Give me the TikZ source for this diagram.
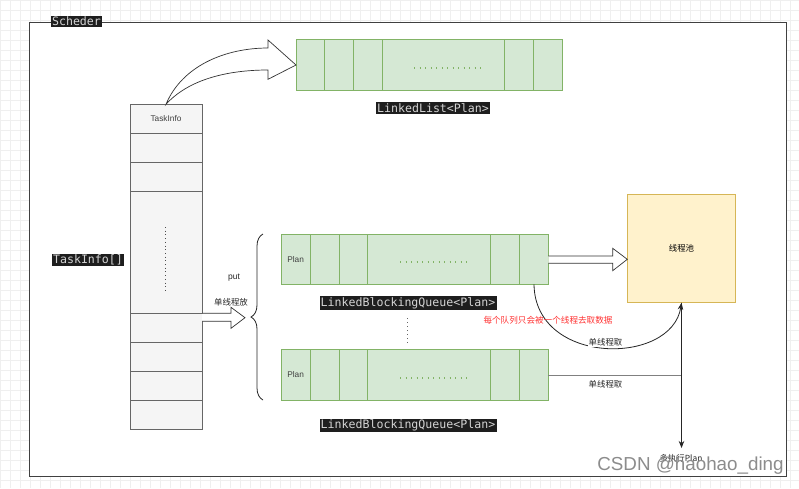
\documentclass[tikz,border=0pt]{standalone}
\usepackage{fontspec}
\setmainfont{Liberation Sans}
\newfontfamily\cjk{Noto Sans CJK SC}
\newfontfamily\monof{DejaVu Sans Mono}
\usetikzlibrary{arrows.meta,calc,decorations.pathreplacing}
\definecolor{gfill}{HTML}{D5E8D4}
\definecolor{gline}{HTML}{82B366}
\definecolor{tfill}{HTML}{F5F5F5}
\definecolor{tline}{HTML}{666666}
\definecolor{pfill}{HTML}{FFF2CC}
\definecolor{pline}{HTML}{D6B656}
\definecolor{darkbg}{HTML}{1E1E1E}
\definecolor{codetext}{HTML}{D4D4D4}
\definecolor{redtxt}{HTML}{FF3333}
\definecolor{gridc}{HTML}{EFEFEF}
\tikzset{
  gcell/.style={draw=gline, fill=gfill, line width=0.9pt, anchor=north west, inner sep=0pt, outer sep=0pt, font=\fontsize{8.3}{10}\selectfont, text=black!75},
  tcell/.style={draw=tline, fill=tfill, line width=0.8pt, anchor=north west, inner sep=0pt, outer sep=0pt, minimum width=72pt, font=\fontsize{8.3}{10}\selectfont, text=black!75},
  codelabel/.style={fill=darkbg, text=codetext, font=\monof\fontsize{11.6}{13}\selectfont, inner sep=1.2pt},
  smalltxt/.style={font=\fontsize{8.5}{10}\selectfont, text=black!85, inner sep=1pt},
  cjklabel/.style={font=\cjk\fontsize{8.4}{10}\selectfont, text=black!85, inner sep=1pt},
  blockarrow/.style={draw=black!80, fill=white, line width=0.7pt, line join=miter},
  hdots/.style={draw=gline, line width=1.1pt, dash pattern=on 1.1pt off 4.4pt},
  edgeline/.style={draw=black!85, line width=0.8pt, -{Stealth[length=7pt,width=5.5pt]}},
}
\begin{document}
\begin{tikzpicture}[x=1pt,y=-1pt]
\useasboundingbox (0,0) rectangle (799,488);
% background grid
\draw[gridc, line width=0.5pt, step=10pt] (0,0) grid (799,488);
% frame
\draw[black!75, fill=white, line width=0.8pt] (29.7,22) rectangle (786,476);
\node[codelabel] (sched) at (76.5,21.5) {Scheder};

% TaskInfo array
\node[tcell, minimum height=29pt] (t1) at (130,104.3) {TaskInfo};
\node[tcell, minimum height=29pt] (t2) at (130,133.3) {};
\node[tcell, minimum height=28.7pt] (t3) at (130,162.3) {};
\node[tcell, minimum height=122.3pt] (t4) at (130,191) {};
\node[tcell, minimum height=29pt] (t5) at (130,313.3) {};
\node[tcell, minimum height=29pt] (t6) at (130,342.3) {};
\node[tcell, minimum height=29pt] (t7) at (130,371.3) {};
\node[tcell, minimum height=28.7pt] (t8) at (130,400.3) {};
\draw[black!70, line width=1pt, dash pattern=on 1pt off 2.7pt] (165,227) -- (165,293);
\node[codelabel] (tarr) at (88,260) {TaskInfo[]};

% LinkedList
\node[gcell, minimum width=28.3pt, minimum height=51pt] (l1) at (296,39.5) {};
\node[gcell, minimum width=29pt, minimum height=51pt] (l2) at (324.3,39.5) {};
\node[gcell, minimum width=29pt, minimum height=51pt] (l3) at (353.3,39.5) {};
\node[gcell, minimum width=122pt, minimum height=51pt] (l4) at (382.3,39.5) {};
\node[gcell, minimum width=29pt, minimum height=51pt] (l5) at (504.3,39.5) {};
\node[gcell, minimum width=29pt, minimum height=51pt] (l6) at (533.3,39.5) {};
\draw[hdots] (414,68) -- (481,68);
\node[codelabel] (llab) at (433,108) {LinkedList<Plan>};

% curved block arrow TaskInfo -> LinkedList
\draw[blockarrow] (t1.north) .. controls (182,66) and (225,48) .. (268,48) -- (268,40) -- (l1.west) -- (268,79.3) -- (268,70) .. controls (226,70) and (188,80) .. (t1.north) -- cycle;

% Queue 1
\node[gcell, minimum width=29.3pt, minimum height=50pt] (qa1) at (281,234.3) {Plan};
\node[gcell, minimum width=29.2pt, minimum height=50pt] (qa2) at (310.3,234.3) {};
\node[gcell, minimum width=28.2pt, minimum height=50pt] (qa3) at (339.5,234.3) {};
\node[gcell, minimum width=122.8pt, minimum height=50pt] (qa4) at (367.7,234.3) {};
\node[gcell, minimum width=29.2pt, minimum height=50pt] (qa5) at (490.5,234.3) {};
\node[gcell, minimum width=28.6pt, minimum height=50pt] (qa6) at (519.7,234.3) {};
\draw[hdots] (400,262) -- (467,262);
\node[codelabel] (qlab1) at (408,303) {LinkedBlockingQueue<Plan>};

% vertical dots between queues
\draw[black!60, line width=1pt, dash pattern=on 1pt off 3pt] (407,318) -- (407,343);

% Queue 2
\node[gcell, minimum width=29.3pt, minimum height=51pt] (qb1) at (281,349.5) {Plan};
\node[gcell, minimum width=29.2pt, minimum height=51pt] (qb2) at (310.3,349.5) {};
\node[gcell, minimum width=28.2pt, minimum height=51pt] (qb3) at (339.5,349.5) {};
\node[gcell, minimum width=122.8pt, minimum height=51pt] (qb4) at (367.7,349.5) {};
\node[gcell, minimum width=29.2pt, minimum height=51pt] (qb5) at (490.5,349.5) {};
\node[gcell, minimum width=28.6pt, minimum height=51pt] (qb6) at (519.7,349.5) {};
\draw[hdots] (400,378) -- (467,378);
\node[codelabel] (qlab2) at (408,425.5) {LinkedBlockingQueue<Plan>};

% brace
\draw[black!85, line width=0.8pt, decorate, decoration={brace, amplitude=12pt, aspect=0.5}] (263,400) -- (263,234);

% put arrow
\node[smalltxt] (put) at (234,278) {put};
\node[cjklabel] (putcn) at (231,302) {单线程放};
\draw[blockarrow] ($(t5.north east)+(0,0)$) -- (231,313.3) -- (231,307.3) -- (245,317.7) -- (231,328.3) -- (231,321.3) -- ($(t5.north east)+(0,8)$);

% thread pool
\node[draw=pline, fill=pfill, line width=0.8pt, anchor=north west, minimum width=108.4pt, minimum height=108.4pt, inner sep=0pt, outer sep=0pt, font=\cjk\fontsize{8.4}{10}\selectfont] (pool) at (627.3,194.3) {线程池};

% block arrow queue1 -> pool
\draw[blockarrow] (548.3,256) -- (612.7,256) -- (612.7,248.3) -- (pool.west |- 0,259.3) -- (612.7,270.7) -- (612.7,263.3) -- (548.3,263.3);

% queue2 -> pool (gray)
\draw[black!50, line width=0.9pt] (qb6.east) -- (681.5,375);
% pool -> bottom
\coordinate (execend) at (681.5,448);
\draw[edgeline] (pool.south) -- (execend);
\node[cjklabel] (exec) at (681,458.5) {多执行Plan};
\node[cjklabel, fill=white] (take2) at (605.5,384) {单线程取};

% curve queue1 -> pool
\draw[edgeline] (qa6.south) .. controls (535,366) and (672,366) .. (pool.south);
\node[cjklabel, fill=white] (take1) at (605.5,342.5) {单线程取};

\node[font=\cjk\fontsize{8.6}{10}\selectfont, text=redtxt, inner sep=0pt] (note) at (548,320.5) {每个队列只会被一个线程去取数据};

% watermark
\node[font=\fontsize{18.8}{20}\selectfont, text=black!45, inner sep=0pt] (wm) at (690.5,466) {CSDN @haohao\_ding};
\end{tikzpicture}
\end{document}
